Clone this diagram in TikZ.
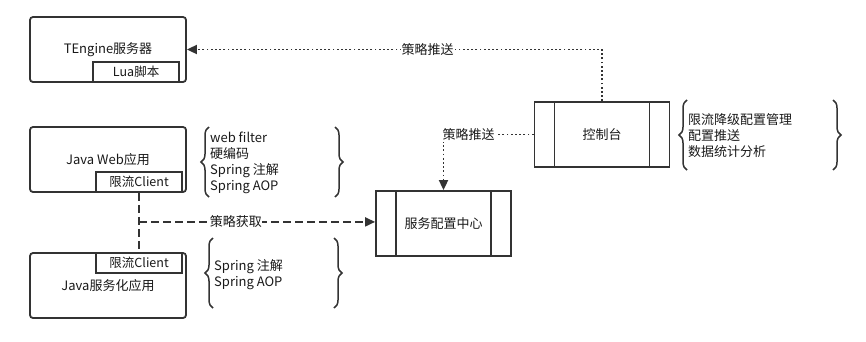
\documentclass[tikz,border=0pt]{standalone}
\usepackage{fontspec}
\setmainfont{Noto Sans CJK SC}
\usetikzlibrary{arrows.meta,positioning,calc,decorations.pathreplacing}
\definecolor{linegray}{RGB}{51,51,51}
\definecolor{textgray}{RGB}{25,25,25}
\tikzset{
  appbox/.style={
    draw=linegray,
    line width=1.8pt,
    rounded corners=3pt,
    minimum width=156pt,
    minimum height=65pt,
    inner sep=0pt,
    text=textgray,
    font=\fontsize{13}{15}\selectfont
  },
  tagbox/.style={
    draw=linegray,
    line width=1.6pt,
    fill=white,
    minimum width=86pt,
    minimum height=20pt,
    inner sep=0pt,
    text=textgray,
    font=\fontsize{12.5}{14}\selectfont
  },
  procbox/.style={
    draw=linegray,
    line width=1.8pt,
    minimum width=135pt,
    minimum height=65pt,
    inner sep=0pt,
    text=textgray,
    font=\fontsize{13}{15}\selectfont,
    path picture={
      \draw[linegray,line width=1.8pt]
        ([xshift=20pt]path picture bounding box.north west) -- ([xshift=20pt]path picture bounding box.south west)
        ([xshift=-20pt]path picture bounding box.north east) -- ([xshift=-20pt]path picture bounding box.south east);
    }
  },
  notes/.style={
    align=left,
    anchor=west,
    inner sep=0pt,
    text=textgray,
    font=\fontsize{13}{16}\selectfont
  },
  lbl/.style={
    fill=white,
    inner sep=1pt,
    text=textgray,
    font=\fontsize{13}{15}\selectfont
  },
  pusharr/.style={-{Triangle[length=10pt,width=9pt]},linegray,line width=1.8pt,dash pattern=on 1.8pt off 2.4pt},
  pullline/.style={linegray,line width=1.8pt,dash pattern=on 8pt off 4pt},
  pullarr/.style={pullline,-{Triangle[length=10pt,width=9pt]}},
  brc/.style={decorate,decoration={brace,amplitude=8pt},linegray,line width=1.5pt}
}
\begin{document}
\begin{tikzpicture}[x=1pt,y=-1pt]
  \useasboundingbox (0,0) rectangle (866,341);

  % clients
  \node[appbox] (tengine) at (108,49.5) {TEngine服务器};
  \node[tagbox,anchor=south east] (lua) at ([xshift=-7pt]tengine.south east) {Lua脚本};
  \node[appbox] (javaweb) at (108,159.5) {Java Web应用};
  \node[tagbox,anchor=south east] (webclient) at ([xshift=-4pt]javaweb.south east) {限流Client};
  \node[appbox] (javasvc) at (108,285.5) {\raisebox{-2pt}{Java服务化应用}};
  \node[tagbox,anchor=north east] (svcclient) at ([xshift=-4pt]javasvc.north east) {限流Client};

  % server side
  \node[procbox] (config) at (443.5,223.5) {服务配置中心};
  \node[procbox] (console) at (602,134.5) {控制台};

  % notes
  \node[notes] (webnotes) at (210,162.5) {web filter\\硬编码\\Spring 注解\\Spring AOP};
  \node[notes] (svcnotes) at (214,275) {Spring 注解\\Spring AOP};
  \node[notes] (consolenotes) at (688,136) {限流降级配置管理\\配置推送\\数据统计分析};
  \draw[brc] (209,197) -- (209,127);
  \draw[brc] (335,127) -- (335,197);
  \draw[brc] (213,308) -- (213,238);
  \draw[brc] (334,238) -- (334,308);
  \draw[brc] (687,170) -- (687,100);
  \draw[brc] (833,100) -- (833,170);

  % connectors
  \draw[pusharr] (console.north) |- node[lbl,pos=0.71] {策略推送} (tengine.east);
  \draw[pusharr] (console.west) -| node[lbl,pos=0.36] {策略推送} (config.north);
  \draw[pullline] (webclient.south) -- (svcclient.north);
  \coordinate (fork) at ($(webclient.south)!0.49!(svcclient.north)$);
  \draw[pullarr] (fork) -- node[lbl,pos=0.41,inner sep=0pt] {策略获取} (fork -| config.west);
\end{tikzpicture}
\end{document}
